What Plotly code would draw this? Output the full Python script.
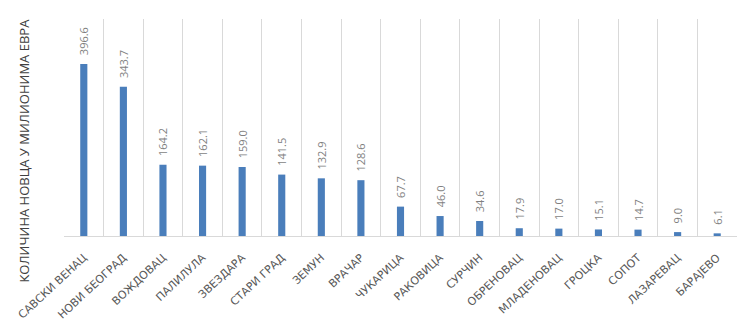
import plotly.graph_objects as go

categories = ["САВСКИ ВЕНАЦ", "НОВИ БЕОГРАД", "ВОЖДОВАЦ", "ПАЛИЛУЛА", "ЗВЕЗДАРА",
              "СТАРИ ГРАД", "ЗЕМУН", "ВРАЧАР", "ЧУКАРИЦА", "РАКОВИЦА", "СУРЧИН",
              "ОБРЕНОВАЦ", "МЛАДЕНОВАЦ", "ГРОЦКА", "СОПОТ", "ЛАЗАРЕВАЦ", "БАРАЈЕВО"]
values = [396.6, 343.7, 164.2, 162.1, 159.0, 141.5, 132.9, 128.6, 67.7, 46.0,
          34.6, 17.9, 17.0, 15.1, 14.7, 9.0, 6.1]
y_title = "КОЛИЧИНА НОВЦА У МИЛИОНИМА ЕВРА"

fig = go.Figure()
fig.add_trace(go.Bar(
    x=categories, y=values,
    marker=dict(color="#4a7ebb", line=dict(width=0)),
    width=0.18,
    text=[f"\u00a0\u00a0{v:.1f}" for v in values],
    textposition="outside", textangle=-90, constraintext="none",
    textfont=dict(family="Open Sans", size=11, color="#7f7f7f"),
    cliponaxis=False,
))
# invisible trace on secondary x axis to draw gridlines at category boundaries
fig.add_trace(go.Scatter(x=[0, len(categories) - 1], y=[0, 0], xaxis="x2",
                         mode="markers", marker=dict(opacity=0), showlegend=False,
                         hoverinfo="skip"))

fig.update_layout(
    width=750, height=334,
    margin=dict(l=64, r=13, t=19, b=98),
    paper_bgcolor="white", plot_bgcolor="white",
    showlegend=False,
    xaxis=dict(type="category", showgrid=False, showline=True, linecolor="#d9d9d9",
               linewidth=1, tickangle=-43, ticks="", ticklabelstandoff=10,
               tickfont=dict(family="DejaVu Sans", size=11, color="#595959"),
               range=[-0.5, len(categories) - 0.5]),
    xaxis2=dict(overlaying="x", range=[-0.5, len(categories) - 0.5], tick0=0.5, dtick=1,
                showgrid=True, gridcolor="#d9d9d9", gridwidth=1, showticklabels=False,
                zeroline=False, showline=False, ticks=""),
    yaxis=dict(range=[0, 500], showgrid=False, showticklabels=False, zeroline=False,
               showline=False, ticks=""),
    annotations=[dict(text=y_title, textangle=-90, xref="paper", yref="paper",
                      x=-0.060, y=0.392, xanchor="center", yanchor="middle",
                      showarrow=False,
                      font=dict(family="Open Sans", size=13, color="#404040"))],
)

fig.write_html("out.html")
